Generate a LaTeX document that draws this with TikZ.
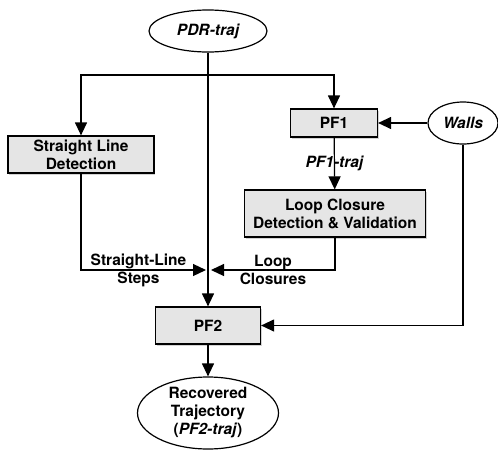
\documentclass[tikz,border=0pt]{standalone}
\usepackage{fontspec}
\setmainfont{TeX Gyre Heros}
\usetikzlibrary{arrows.meta,shapes.geometric,shadows}
\tikzset{
  procbox/.style={draw, line width=1.2pt, fill=gray!20, align=center, inner sep=0pt,
    drop shadow={shadow xshift=1.2pt, shadow yshift=-1.5pt, opacity=0.35}},
  dataoval/.style={draw, line width=1.2pt, fill=white, ellipse, align=center, inner sep=0pt},
  lbl/.style={align=center, inner sep=0pt}
}
\begin{document}
\begin{tikzpicture}[x=1pt, y=-1pt, line width=1.2pt,
    font=\fontsize{15.5}{18}\selectfont\bfseries]
      \useasboundingbox (0,0) rectangle (498,450);
      \draw
        (208,31) node[dataoval, minimum width=118pt, minimum height=42pt] (pdr){\itshape PDR-traj}
        (81,154.5) node[procbox, minimum width=146pt, minimum height=37pt] (sld){Straight Line\\Detection}
        (334,123) node[procbox, minimum width=87pt, minimum height=28pt] (pf1){PF1}
        (463,123) node[dataoval, minimum width=70pt, minimum height=42pt] (walls){\itshape Walls}
        (335,213.5) node[procbox, minimum width=181pt, minimum height=47pt] (lcd){Loop Closure\\Detection \& Validation}
        (208,325.5) node[procbox, minimum width=105pt, minimum height=37pt] (pf2){PF2}
        (208,413) node[dataoval, minimum width=141pt, minimum height=72pt] (rec){Recovered\\Trajectory\\(\textit{PF2-traj})};
      \coordinate (split) at (208,75);
      \coordinate (mL) at (206,270);
      \coordinate (mR) at (211,270);
      \begin{scope}[-{Triangle[length=13pt,width=12pt]}]
        \draw (pdr) to (pf2);
        \draw (split) -| (sld);
        \draw (split) -| (pf1);
        \draw (walls) to (pf1);
        \draw (walls) |- (pf2);
        \draw (pf1) to node[lbl, midway]{\itshape PF1-traj} (lcd);
        \draw (sld) |- node[lbl, pos=0.73]{Straight-Line\\Steps} (mL);
        \draw (lcd) |- node[lbl, pos=0.75]{Loop\\Closures} (mR);
        \draw (pf2) to (rec);
      \end{scope}
    \end{tikzpicture}
\end{document}
